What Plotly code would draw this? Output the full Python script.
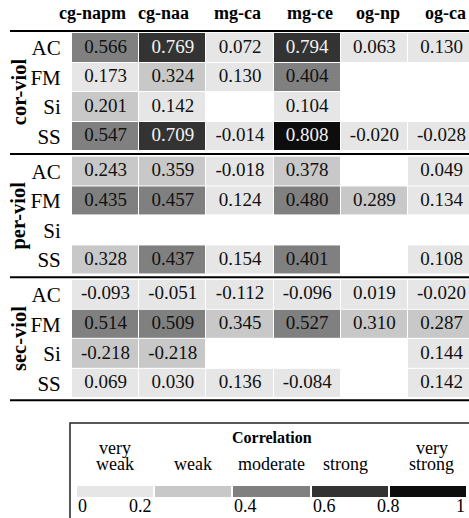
import plotly.graph_objects as go

# ---------------- data ----------------
columns = ["cg-napm", "cg-naa", "mg-ca", "mg-ce", "og-np", "og-ca"]
rows = ["AC", "FM", "Si", "SS"]
groups = ["cor-viol", "per-viol", "sec-viol"]

cor_viol = [
    [0.566, 0.769, 0.072, 0.794, 0.063, 0.130],
    [0.173, 0.324, 0.130, 0.404, None, None],
    [0.201, 0.142, None, 0.104, None, None],
    [0.547, 0.709, -0.014, 0.808, -0.020, -0.028],
]
per_viol = [
    [0.243, 0.359, -0.018, 0.378, None, 0.049],
    [0.435, 0.457, 0.124, 0.480, 0.289, 0.134],
    [None, None, None, None, None, None],
    [0.328, 0.437, 0.154, 0.401, None, 0.108],
]
sec_viol = [
    [-0.093, -0.051, -0.112, -0.096, 0.019, -0.020],
    [0.514, 0.509, 0.345, 0.527, 0.310, 0.287],
    [-0.218, -0.218, None, None, None, 0.144],
    [0.069, 0.030, 0.136, -0.084, None, 0.142],
]
group_values = [cor_viol, per_viol, sec_viol]

bin_edges = [0, 0.2, 0.4, 0.6, 0.8, 1]
bin_edge_labels = ["0", "0.2", "0.4", "0.6", "0.8", "1"]
bin_colors = ["#e6e6e6", "#c8c8c8", "#808080", "#333333", "#0d0d0d"]
bin_label_top = ["very", "", "", "", "very"]
bin_label_bottom = ["weak", "weak", "moderate", "strong", "strong"]
legend_title = "Correlation"

# ---------------- layout helpers ----------------
W, H = 469, 518
SERIF = "Liberation Serif"


def py(p):
    return 1 - p / H


def px(p):
    return p / W


colorscale = []
for i, c in enumerate(bin_colors):
    colorscale.append([bin_edges[i], c])
    colorscale.append([bin_edges[i + 1], c])


def bin_index(v):
    a = abs(v)
    for i in range(len(bin_colors)):
        if a < bin_edges[i + 1]:
            return i
    return len(bin_colors) - 1


col_left, col_w = 72, 67.2
row_top, row_h, group_gap = 33, 29.6, 5
x_range = [-0.5, len(columns) - 0.5 - (col_left + col_w * len(columns) - W) / col_w]

fig = go.Figure()
yaxis_names = ["y", "y2", "y3"]
rule_ys = [31]
group_domains = []
for g, vals in enumerate(group_values):
    top = row_top + g * (len(rows) * row_h + group_gap)
    bottom = top + len(rows) * row_h
    group_domains.append((top, bottom))
    rule_ys.append(bottom + group_gap / 2 if g < len(group_values) - 1 else bottom + 2)
    z = [[abs(v) if v is not None else None for v in r] for r in vals]
    fig.add_trace(go.Heatmap(
        x=columns, y=rows, z=z, zmin=0, zmax=1, colorscale=colorscale,
        showscale=False, xgap=1, ygap=1, hoverinfo="skip",
        xaxis="x", yaxis=yaxis_names[g],
    ))
    tx, ty, tt, tc = [], [], [], []
    for ri, r in enumerate(vals):
        for ci, v in enumerate(r):
            if v is None:
                continue
            tx.append(columns[ci])
            ty.append(rows[ri])
            tt.append(f"{v:.3f}")
            tc.append("#f2f2f2" if bin_index(v) >= 3 else "#111111")
    fig.add_trace(go.Scatter(
        x=tx, y=ty, text=tt, mode="text",
        textfont=dict(family=SERIF, size=19, color=tc),
        hoverinfo="skip", showlegend=False,
        xaxis="x", yaxis=yaxis_names[g],
    ))

# legend bar
mids = [(bin_edges[i] + bin_edges[i + 1]) / 2 for i in range(len(bin_colors))]
fig.add_trace(go.Heatmap(
    x=list(range(len(bin_colors))), y=[0], z=[mids], zmin=0, zmax=1,
    colorscale=colorscale, showscale=False, xgap=2, hoverinfo="skip",
    xaxis="x2", yaxis="y4",
))

layout = dict(
    width=W, height=H,
    margin=dict(l=0, r=0, t=0, b=0),
    paper_bgcolor="white", plot_bgcolor="white",
    showlegend=False,
    xaxis=dict(type="category", categoryorder="array", categoryarray=columns,
               range=x_range, domain=[px(col_left), 1], anchor="y",
               showticklabels=False, showgrid=False, zeroline=False, showline=False),
    xaxis2=dict(range=[-0.5, len(bin_colors) - 0.5], domain=[px(76), px(467)],
                anchor="y4", visible=False),
    yaxis4=dict(range=[-0.5, 0.5], domain=[py(497), py(486)], anchor="x2", visible=False),
)
for g, (top, bottom) in enumerate(group_domains):
    key = "yaxis" if g == 0 else f"yaxis{g + 1}"
    layout[key] = dict(
        type="category", categoryorder="array", categoryarray=rows,
        range=[len(rows) - 0.5, -0.5], domain=[py(bottom), py(top)], anchor="x",
        showgrid=False, zeroline=False, showline=False,
        ticks="outside", ticklen=6, tickcolor="rgba(0,0,0,0)",
        tickfont=dict(family=SERIF, size=21, color="black"),
    )
fig.update_layout(**layout)

shapes = []
for y in rule_ys:
    shapes.append(dict(type="line", xref="paper", yref="paper",
                       x0=px(10), x1=1, y0=py(y), y1=py(y),
                       line=dict(color="black", width=2)))
shapes.append(dict(type="rect", xref="paper", yref="paper",
                   x0=px(70), x1=1.05, y0=-0.05, y1=py(423),
                   line=dict(color="#222222", width=1.5)))
fig.update_layout(shapes=shapes)

ann = []
header_shift = [-13, -9, -3, 3, 4, 4]
for ci, c in enumerate(columns):
    ann.append(dict(x=c, y=py(12.5), xref="x", yref="paper", text=c, showarrow=False,
                    xshift=header_shift[ci], xanchor="center", yanchor="middle",
                    font=dict(family=SERIF, size=18, color="black", weight="bold")))
for g, (top, bottom) in enumerate(group_domains):
    ann.append(dict(x=px(19), y=py((top + bottom) / 2), xref="paper", yref="paper",
                    text=groups[g], textangle=-90, showarrow=False,
                    xanchor="center", yanchor="middle",
                    font=dict(family=SERIF, size=20.5, color="black", weight="bold")))
ann.append(dict(x=2, y=py(437), xref="x2", yref="paper", text=legend_title,
                showarrow=False, xanchor="center", yanchor="middle",
                font=dict(family=SERIF, size=16, color="black", weight="bold")))
label_shift = [0, 0, 0, -4, 4]
for i in range(len(bin_colors)):
    if bin_label_top[i]:
        ann.append(dict(x=i, y=py(448), xref="x2", yref="paper", text=bin_label_top[i],
                        xshift=label_shift[i], showarrow=False,
                        xanchor="center", yanchor="middle",
                        font=dict(family=SERIF, size=18, color="black")))
    ann.append(dict(x=i, y=py(464), xref="x2", yref="paper", text=bin_label_bottom[i],
                    xshift=label_shift[i], showarrow=False,
                    xanchor="center", yanchor="middle",
                    font=dict(family=SERIF, size=18, color="black")))
tick_anchor = ["left", "right", "left", "left", "center", "right"]
for i, lab in enumerate(bin_edge_labels):
    ann.append(dict(x=i - 0.5, y=py(506), xref="x2", yref="paper", text=lab,
                    showarrow=False, xanchor=tick_anchor[i], yanchor="middle",
                    font=dict(family=SERIF, size=18, color="black")))
fig.update_layout(annotations=ann)

# remove the default page margin so the 469x518 figure fills the window
fig.write_html("out.html",
               config={"displayModeBar": False},
               post_script="document.body.style.margin='0';"
                           "document.body.style.overflow='hidden';")
